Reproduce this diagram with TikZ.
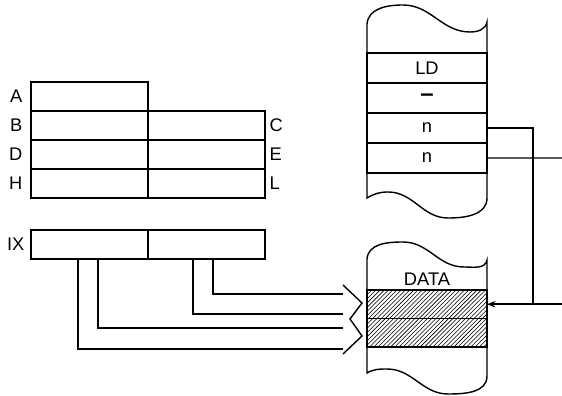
\documentclass[tikz,border=0pt]{standalone}
\usepackage{fontspec}
\setmainfont{Liberation Sans}
\usetikzlibrary{arrows.meta, positioning, patterns}

\tikzset{
  reg/.style={draw, minimum width=2.925cm, minimum height=0.725cm, inner sep=0pt, outer sep=0pt},
  mem/.style={draw, minimum width=3cm, minimum height=0.75cm, inner sep=0pt, outer sep=0pt, font=\fontsize{13}{15}\selectfont},
  lbl/.style={inner sep=0pt, font=\fontsize{13}{15}\selectfont}
}

\begin{document}
\begin{tikzpicture}[line width=1pt]
  \useasboundingbox (0,0) rectangle (14.05,9.9);

  % Coordinates
  \coordinate (S1) at (8.575, 2.55);
  \coordinate (S2) at (8.575, 2.05);
  \coordinate (S3) at (8.575, 1.70);
  \coordinate (S4) at (8.575, 1.175);
  \coordinate (H1) at (8.575, 2.775);
  \coordinate (T1) at (9.05, 2.325);
  \coordinate (H2) at (8.75, 1.925);
  \coordinate (T2) at (9.05, 1.50);
  \coordinate (H3) at (8.575, 1.05);
  \coordinate (J) at (13.325, 2.295);
  \coordinate (Out) at (14.05, 5.95);
  \coordinate (In) at (14.05, 2.295);

  % Registers
  \node[reg] (regA) at (2.2375, 7.4875) {};
  \node[reg, below=0pt of regA] (regB) {};
  \node[reg, right=0pt of regB] (regC) {};
  \node[reg, below=0pt of regB] (regD) {};
  \node[reg, right=0pt of regD] (regE) {};
  \node[reg, below=0pt of regD] (regH) {};
  \node[reg, right=0pt of regH] (regL) {};
  \node[reg] (ixh) at (2.2375, 3.7875) {};
  \node[reg, right=0pt of ixh] (ixl) {};

  \node[lbl, left=0.2cm of regA] (tA) {A};
  \node[lbl, left=0.2cm of regB] (tB) {B};
  \node[lbl, left=0.2cm of regD] (tD) {D};
  \node[lbl, left=0.2cm of regH] (tH) {H};
  \node[lbl, right=0.1cm of regC] (tC) {C};
  \node[lbl, right=0.1cm of regE] (tE) {E};
  \node[lbl, right=0.1cm of regL] (tL) {L};
  \node[lbl, left=0.15cm of ixh] (tIX) {IX};

  % Program memory
  \draw (9.175,4.95) -- (9.175,9.3) to[out=85,in=180] (10.075,9.775)
    to[out=0,in=180] (11.75,9.1) to[out=0,in=260] (12.175,9.35)
    -- (12.175,4.95) to[out=-90,in=0] (11.2,4.45)
    to[out=180,in=0] (9.7,5.1) to[out=180,in=30] cycle;
  \node[mem] (ld) at (10.675, 8.2) {LD};
  \node[mem, below=0pt of ld] (dash) {\fontsize{17}{17}\selectfont\bfseries --};
  \node[mem, below=0pt of dash] (n1) {n};
  \node[mem, below=0pt of n1] (n2) {n};

  % Data memory
  \draw (9.175,0.575) -- (9.175,3.425) to[out=85,in=180] (10.075,3.85)
    to[out=0,in=180] (11.6,3.225) to[out=0,in=260] (12.175,3.4)
    -- (12.175,0.5) to[out=-90,in=0] (11.2,0.05)
    to[out=180,in=0] (9.675,0.675) to[out=180,in=30] cycle;
  \node[lbl] (data) at (10.675, 2.925) {DATA};
  \node[mem, minimum height=0.71cm] (d1) at (10.675, 2.295) {};
  \node[mem, minimum height=0.71cm, below=0pt of d1] (d2) {};
  \fill[pattern=north east lines] (d1.north west) rectangle (d2.south east);

  % Address paths
  \draw ([xshift=0.1625cm]ixl.south) |- (S1);
  \draw ([xshift=-0.3375cm]ixl.south) |- (S2);
  \draw ([xshift=0.2125cm]ixh.south) |- (S3);
  \draw ([xshift=-0.2875cm]ixh.south) |- (S4);
  \draw (H1) -- (T1) -- (H2) -- (T2) -- (H3);

  % Displacement
  \draw (n1.east) -| (J);
  \draw (n2.east) -- (Out);
  \draw[-{Stealth[length=6pt]}] (In) -- (d1.east);
\end{tikzpicture}
\end{document}
